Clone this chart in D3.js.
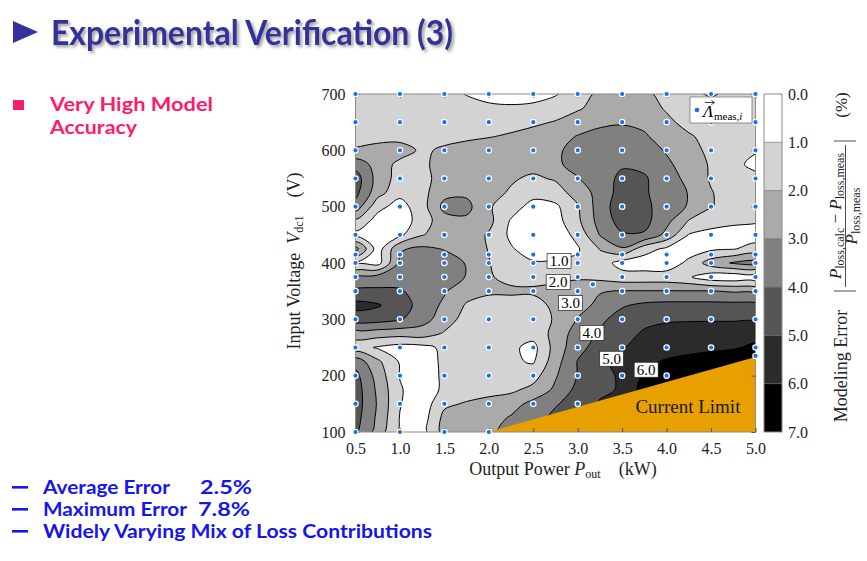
<!DOCTYPE html>
<html><head><meta charset="utf-8">
<script src="https://cdn.jsdelivr.net/npm/d3@7"></script>
<style>body{margin:0;background:#fff;}svg{display:block;}</style>
</head><body>
<svg id="c" width="867" height="561"></svg>
<script>
// ---------------- data ----------------
const powerGrid = [0.5,0.75,1.0,1.25,1.5,1.75,2.0,2.25,2.5,2.75,3.0,3.25,3.5,3.75,4.0,4.25,4.5,4.75,5.0]; // kW
const voltageGrid = [700,675,650,625,600,575,550,525,500,475,450,425,400,375,350,325,300,275,250,225,200,175,150,125,100]; // V
// modelling error (%) read from the map, one row per voltage (top = 700 V)
const errorGrid = [
 [1.5,1.5,1.5,1.5,1.4,0.95,0.5,0.4,0.5,0.9,1.6,2.2,2.4,2.2,1.7,1.2,0.9,1.2,1.4],
 [1.5,1.5,1.5,1.5,1.5,1.4,1.3,1.2,1.3,1.6,1.9,2.3,2.5,2.4,1.9,1.5,1.4,1.5,1.5],
 [1.5,1.5,1.5,1.5,1.5,1.5,1.6,1.7,1.85,2.05,2.4,2.8,2.9,2.8,2.2,1.7,1.5,1.5,1.5],
 [1.6,1.6,1.6,1.5,1.6,1.8,1.95,2.1,2.3,2.6,3.05,3.3,3.4,3.1,2.6,2.1,1.7,1.5,1.5],
 [2.1,2.4,2.5,1.8,2.2,2.4,2.45,2.55,2.6,2.9,3.2,3.5,3.7,3.5,2.9,2.3,1.8,1.4,1.1],
 [3.6,2.6,1.7,1.8,2.4,2.45,2.5,2.4,2.3,2.85,3.3,3.6,3.9,3.8,3.2,2.5,1.9,1.3,0.7],
 [4.5,2.6,1.6,1.7,2.4,2.5,2.45,2.1,1.85,2.1,2.95,3.6,4.2,4.1,3.5,2.7,1.9,1.5,1.3],
 [4.3,2.4,1.3,1.7,2.7,2.8,2.3,1.9,1.4,1.6,2.4,3.4,4.4,4.1,3.6,2.95,2.05,1.6,1.5],
 [3.6,1.3,0.6,1.6,3.3,3.3,2.1,1.5,0.6,0.8,1.9,3.5,4.6,4.2,3.6,2.9,2.05,1.6,1.5],
 [1.8,0.6,0.4,1.5,2.6,2.8,2.3,0.9,0.4,0.6,1.8,3.4,4.4,4.3,3.3,1.95,1.4,1.2,1.1],
 [0.7,0.4,0.8,1.95,2.4,2.5,1.9,0.8,0.3,0.4,1.3,3.05,3.9,3.9,2.7,0.95,0.7,0.6,0.6],
 [3.4,0.5,2.9,3.2,2.95,2.6,1.95,1.1,0.5,0.5,0.9,2.05,2.9,1.4,0.8,0.6,0.8,0.95,1.3],
 [0.8,0.6,3.2,3.5,3.4,2.95,2.05,1.3,1.1,1.15,1.2,1.5,0.6,0.5,0.5,1.2,2.5,3.1,3.4],
 [3.2,3.4,3.6,3.6,3.5,2.95,2.1,1.7,1.6,1.7,1.8,1.7,1.4,1.4,1.4,1.1,0.4,0.3,0.3],
 [4.2,4.2,4.1,3.6,3.1,2.4,2.2,2.2,2.2,2.4,2.8,2.95,3.05,3.05,3.05,3.05,3.05,2.9,2.8],
 [5.3,5.1,4.5,3.6,2.8,1.9,1.5,1.5,1.5,2.3,2.7,3.2,3.9,4.2,4.3,4.3,4.3,4.3,4.3],
 [4.5,4.4,4.1,3.4,2.5,1.6,1.5,1.5,1.5,2.1,3.05,3.8,4.4,4.8,4.9,4.9,4.9,4.9,4.9],
 [2.5,2.5,2.4,2.5,1.9,1.5,1.5,1.5,1.4,2.3,3.5,4.1,4.7,5.1,5.3,5.5,5.6,5.6,5.6],
 [1.4,0.9,0.6,0.7,1.2,1.5,1.5,1.2,0.7,2.4,3.7,4.4,4.9,5.5,5.6,5.7,5.8,5.9,6.2],
 [3.6,2.2,0.9,0.5,1.2,1.5,1.5,1.15,0.9,2.6,4.05,4.8,5.3,5.8,6.1,6.3,6.5,6.7,6.9],
 [4.3,2.6,0.95,0.4,1.2,1.5,1.5,1.4,1.6,2.9,4.05,4.8,5.1,6.2,6.5,6.7,6.8,6.9,7.0],
 [4.5,2.8,1.1,0.4,1.2,1.5,1.7,1.8,2.3,3.2,4.3,4.8,5.1,6.5,6.8,7.0,7.0,7.0,7.0],
 [4.5,2.9,1.05,0.4,1.8,2.1,2.3,2.6,3.3,3.9,4.5,5.1,5.5,6.8,7.0,7.0,7.0,7.0,7.0],
 [4.4,2.8,0.95,0.5,2.3,2.4,2.6,3.1,3.5,4.3,4.8,5.2,5.8,7.0,7.0,7.0,7.0,7.0,7.0],
 [4.2,2.6,0.8,0.6,2.4,2.6,2.8,3.3,3.7,4.5,5.05,5.5,6.05,7.0,7.0,7.0,7.0,7.0,7.0]
];
const thresholds = [1,2,3,4,5,6];
const bandColors = ["#ffffff","#d3d3d3","#aaaaaa","#808080","#555555","#2b2b2b","#000000"];
const colorbarTicks = [0,1,2,3,4,5,6,7];
const xTicks = [0.5,1.0,1.5,2.0,2.5,3.0,3.5,4.0,4.5,5.0];
const yTicks = [100,200,300,400,500,600,700];
// measurement points
const pointColumns = [0.5,1.0,1.5,2.0,2.5,3.0,3.5,4.0,4.5,5.0];
const pointRows = [700,650,600,550,500,450,415,400,375,350,300,250,200,150,100];
const pointMinV = [100,100,100,100,150,150,200,200,250,250];
const extraPointP = [3.17,5.0];
const extraPointV = [362,235];
// current limit region
const limitP = [2.0,5.0,5.0];
const limitV = [100,233,100];
// contour labels
const contourLabelText = ["1.0","2.0","3.0","4.0","5.0","6.0"];
const contourLabelP = [2.79,2.78,2.92,3.16,3.38,3.77];
const contourLabelV = [403.5,366,329,276,230,210.5];

// ---------------- drawing ----------------
const SERIF = "'Liberation Serif','DejaVu Serif',serif";
const SANS = "Lato,'Open Sans','DejaVu Sans',sans-serif";
const svg = d3.select("#c");
const x = d3.scaleLinear().domain([0.5,5.0]).range([355.5,755.5]);
const y = d3.scaleLinear().domain([100,700]).range([432,94]);
const defs = svg.append("defs");
defs.append("clipPath").attr("id","plotclip").append("rect")
  .attr("x",x(0.5)).attr("y",y(700)).attr("width",x(5)-x(0.5)).attr("height",y(100)-y(700));
const filt = defs.append("filter").attr("id","shadow").attr("x","-5%").attr("y","-30%").attr("width","115%").attr("height","170%");
filt.append("feDropShadow").attr("dx",2.2).attr("dy",2.2).attr("stdDeviation",1.4).attr("flood-color","#808080").attr("flood-opacity",0.75);

// title
svg.append("polygon").attr("points","13,21 38,32 13,43").attr("fill","#333399");
svg.append("text").attr("x",51).attr("y",45).attr("font-family",SANS).attr("font-weight",700)
  .attr("font-size",34).attr("fill","#333399").attr("filter","url(#shadow)")
  .attr("textLength",402).attr("lengthAdjust","spacingAndGlyphs").text("Experimental Verification (3)");

// left bullet
svg.append("rect").attr("x",13).attr("y",100).attr("width",11).attr("height",10).attr("fill","#ff1a6e");
const pinkLines = [["Very High Model",111,163],["Accuracy",134,87]];
svg.selectAll("text.pink").data(pinkLines).join("text").attr("class","pink")
  .attr("x",50).attr("y",d=>d[1]).attr("font-family",SANS).attr("font-weight",700).attr("font-size",19)
  .attr("fill","#ff1a6e").attr("textLength",d=>d[2]).attr("lengthAdjust","spacingAndGlyphs").text(d=>d[0]);

// bottom bullets
const blueLines = [
  {t:"Average Error",y:494,w:127,v:"2.5%",vx:200},
  {t:"Maximum Error",y:516,w:144,v:"7.8%",vx:198},
  {t:"Widely Varying Mix of Loss Contributions",y:538,w:389,v:null}
];
blueLines.forEach(d=>{
  svg.append("rect").attr("x",12).attr("y",d.y-8).attr("width",16).attr("height",2.6).attr("fill","#1616e8");
  svg.append("text").attr("x",43).attr("y",d.y).attr("font-family",SANS).attr("font-weight",700).attr("font-size",18)
    .attr("fill","#1616e8").attr("textLength",d.w).attr("lengthAdjust","spacingAndGlyphs").text(d.t);
  if(d.v) svg.append("text").attr("x",d.vx).attr("y",d.y).attr("font-family",SANS).attr("font-weight",700).attr("font-size",18)
    .attr("fill","#1616e8").attr("textLength",52).attr("lengthAdjust","spacingAndGlyphs").text(d.v);
});

// contour bands
const nx = powerGrid.length, ny = voltageGrid.length;
const dP = powerGrid[1]-powerGrid[0], dV = voltageGrid[0]-voltageGrid[1];
const gx = u => x(powerGrid[0] + (u-0.5)*dP);
const gy = v => y(voltageGrid[0] - (v-0.5)*dV);
const bands = d3.contours().size([nx,ny]).thresholds(thresholds)(errorGrid.flat());
const ringLine = d3.line().x(p=>gx(p[0])).y(p=>gy(p[1])).curve(d3.curveCatmullRomClosed.alpha(0.5));
const bandPath = mp => mp.coordinates.map(poly=>poly.map(r=>ringLine(r.slice(0,-1))).join("")).join("");

const plot = svg.append("g").attr("clip-path","url(#plotclip)");
plot.append("rect").attr("x",x(0.5)).attr("y",y(700)).attr("width",x(5)-x(0.5)).attr("height",y(100)-y(700)).attr("fill",bandColors[0]);
plot.selectAll("path.band").data(bands).join("path").attr("class","band")
  .attr("d",bandPath).attr("fill",(d,i)=>bandColors[i+1]).attr("fill-rule","evenodd");
plot.selectAll("path.iso").data(bands).join("path").attr("class","iso")
  .attr("d",bandPath).attr("fill","none").attr("stroke","#000").attr("stroke-width",1.0);

// current limit
plot.append("path").attr("d",d3.line().x((p,i)=>x(limitP[i])).y((p,i)=>y(limitV[i]))(limitP)+"Z").attr("fill","#e89f00");
svg.append("text").attr("x",x(4.24)).attr("y",y(144)+6).attr("text-anchor","middle").attr("font-family",SERIF)
  .attr("font-size",19).attr("fill","#1a1a1a").text("Current Limit");

// contour labels
contourLabelText.forEach((t,i)=>{
  const cx = x(contourLabelP[i]), cy = y(contourLabelV[i]);
  svg.append("rect").attr("x",cx-12).attr("y",cy-7.5).attr("width",24).attr("height",15).attr("fill","#fff").attr("stroke","#222").attr("stroke-width",0.7);
  svg.append("text").attr("x",cx).attr("y",cy+5).attr("text-anchor","middle").attr("font-family",SERIF).attr("font-size",15).text(t);
});

// frame
svg.append("rect").attr("x",x(0.5)).attr("y",y(700)).attr("width",x(5)-x(0.5)).attr("height",y(100)-y(700))
  .attr("fill","none").attr("stroke","#8a8a8a").attr("stroke-width",1);

// axes (inward ticks)
const styleAxis = g => { g.select(".domain").remove(); g.selectAll("line").attr("stroke","#555");
  g.selectAll("text").attr("font-family",SERIF).attr("font-size",16).attr("fill","#222"); };
svg.append("g").attr("transform",`translate(0,${y(100)})`)
  .call(d3.axisBottom(x).tickValues(xTicks).tickFormat(d3.format(".1f")).tickSize(-4).tickPadding(11)).call(styleAxis);
svg.append("g").attr("transform",`translate(0,${y(700)})`)
  .call(d3.axisTop(x).tickValues(xTicks).tickFormat("").tickSize(-4)).call(styleAxis);
svg.append("g").attr("transform",`translate(${x(0.5)},0)`)
  .call(d3.axisLeft(y).tickValues(yTicks).tickFormat(d3.format("d")).tickSize(-4).tickPadding(10)).call(styleAxis);
svg.append("g").attr("transform",`translate(${x(5)},0)`)
  .call(d3.axisRight(y).tickValues(yTicks).tickFormat("").tickSize(-4)).call(styleAxis);

// measurement points
const pts = [];
pointColumns.forEach((p,i)=>pointRows.forEach(v=>{ if(v>=pointMinV[i]) pts.push([p,v]); }));
extraPointP.forEach((p,i)=>pts.push([p,extraPointV[i]]));
svg.selectAll("circle.pt").data(pts).join("circle").attr("class","pt")
  .attr("cx",d=>x(d[0])).attr("cy",d=>y(d[1])).attr("r",2.7)
  .attr("fill","#1a6ef0").attr("stroke","#fff").attr("stroke-width",1.2);

// legend
const lg = svg.append("g");
lg.append("rect").attr("x",690).attr("y",97).attr("width",62).attr("height",26).attr("fill","#fff").attr("stroke","#777").attr("stroke-width",0.8);
lg.append("circle").attr("cx",697).attr("cy",110).attr("r",2.3).attr("fill","#1a6ef0");
lg.append("text").attr("x",703).attr("y",117).attr("font-family",SERIF).attr("font-style","italic").attr("font-size",17).text("Λ");
lg.append("line").attr("x1",705).attr("x2",714).attr("y1",102.5).attr("y2",102.5).attr("stroke","#111").attr("stroke-width",0.8);
lg.append("path").attr("d","M711.5,100.5 L714.5,102.5 L711.5,104.5").attr("fill","none").attr("stroke","#111").attr("stroke-width",0.8);
const lsub = lg.append("text").attr("x",714).attr("y",120).attr("font-family",SERIF).attr("font-size",11);
lsub.append("tspan").text("meas,");
lsub.append("tspan").attr("font-style","italic").text("i");

// y label
const yl = svg.append("text").attr("transform","translate(300,261) rotate(-90)").attr("text-anchor","middle")
  .attr("font-family",SERIF).attr("font-size",18).attr("fill","#222");
yl.append("tspan").text("Input Voltage\u2002");
yl.append("tspan").attr("font-style","italic").text("V");
yl.append("tspan").attr("font-size",12).attr("dy",3).text("dc1");
yl.append("tspan").attr("dy",-3).text("\u2003(V)");
// x label
const xl = svg.append("text").attr("x",563).attr("y",475).attr("text-anchor","middle")
  .attr("font-family",SERIF).attr("font-size",18).attr("fill","#222");
xl.append("tspan").text("Output Power ");
xl.append("tspan").attr("font-style","italic").text("P");
xl.append("tspan").attr("font-size",12).attr("dy",3).text("out");
xl.append("tspan").attr("dy",-3).text("\u2003(kW)");

// colorbar
const cb = d3.scaleLinear().domain([0,7]).range([y(700),y(100)]);
const cbx = 764, cbw = 18;
svg.selectAll("rect.cb").data(d3.range(7)).join("rect").attr("class","cb")
  .attr("x",cbx).attr("y",d=>cb(d)).attr("width",cbw).attr("height",d=>cb(d+1)-cb(d)).attr("fill",d=>bandColors[d]);
svg.selectAll("line.cbsep").data(thresholds).join("line").attr("class","cbsep")
  .attr("x1",cbx).attr("x2",cbx+cbw).attr("y1",d=>cb(d)).attr("y2",d=>cb(d)).attr("stroke","#666").attr("stroke-width",0.6);
svg.append("rect").attr("x",cbx).attr("y",cb(0)).attr("width",cbw).attr("height",cb(7)-cb(0)).attr("fill","none").attr("stroke","#8a8a8a");
svg.append("g").attr("transform",`translate(${cbx+cbw},0)`)
  .call(d3.axisRight(cb).tickValues(colorbarTicks).tickFormat(d3.format(".1f")).tickSize(0).tickPadding(6)).call(styleAxis);

// colorbar label (rotated)
const cl = svg.append("g").attr("transform","translate(840,263) rotate(-90)")
  .attr("font-family",SERIF).attr("fill","#222");
cl.append("text").attr("x",-103).attr("y",7).attr("text-anchor","middle").attr("font-size",18).text("Modeling Error");
const num = cl.append("text").attr("x",47).attr("y",1).attr("text-anchor","middle").attr("font-size",17);
num.append("tspan").attr("font-style","italic").text("P");
num.append("tspan").attr("font-size",12).attr("dy",3).text("loss,calc");
num.append("tspan").attr("dy",-3).text(" − ");
num.append("tspan").attr("font-style","italic").text("P");
num.append("tspan").attr("font-size",12).attr("dy",3).text("loss,meas");
cl.append("line").attr("x1",-24).attr("x2",118).attr("y1",5.5).attr("y2",5.5).attr("stroke","#222").attr("stroke-width",0.8);
const den = cl.append("text").attr("x",47).attr("y",17).attr("text-anchor","middle").attr("font-size",17);
den.append("tspan").attr("font-style","italic").text("P");
den.append("tspan").attr("font-size",12).attr("dy",3).text("loss,meas");
[-28,122].forEach(a=>cl.append("line").attr("x1",a).attr("x2",a).attr("y1",-6).attr("y2",16).attr("stroke","#222").attr("stroke-width",0.8));
cl.append("text").attr("x",158).attr("y",7).attr("text-anchor","middle").attr("font-size",17).text("(%)");
</script>
</body></html>
